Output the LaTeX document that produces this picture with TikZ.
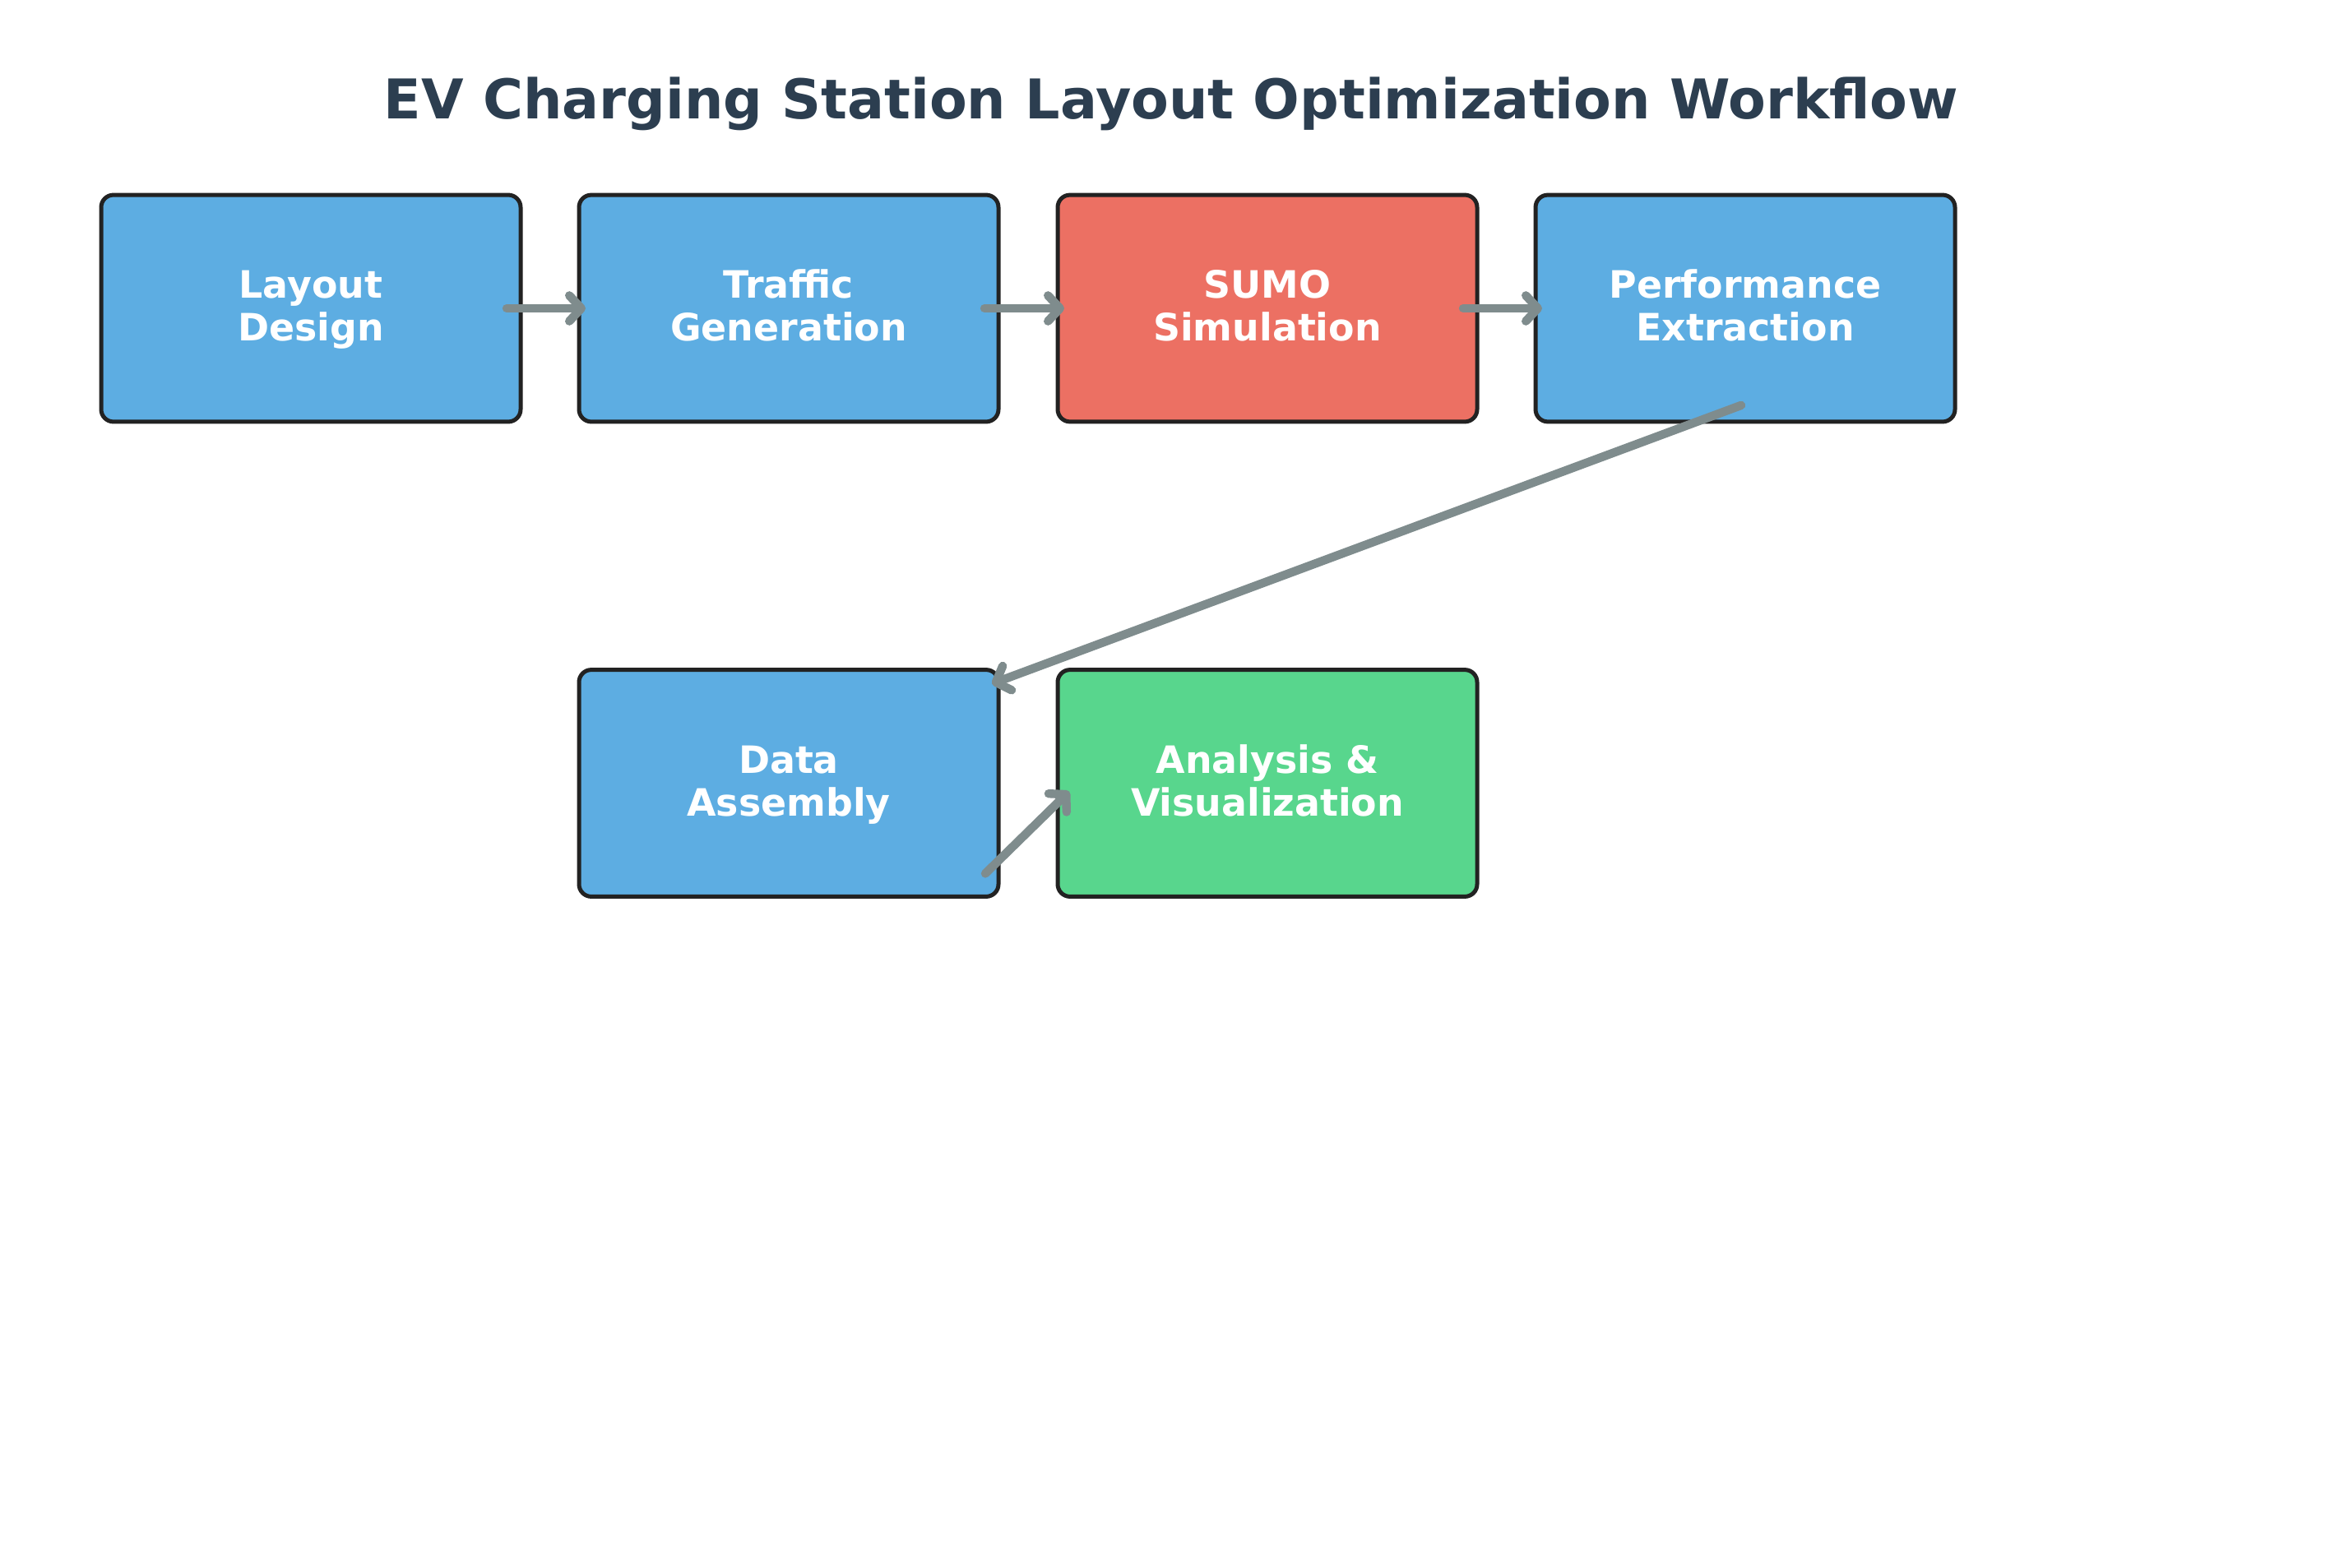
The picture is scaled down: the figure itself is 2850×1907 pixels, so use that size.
\documentclass[tikz,border=0pt]{standalone}
\usepackage{fontspec}
\setmainfont{DejaVu Sans}
\usetikzlibrary{arrows.meta,calc}
\definecolor{boxblue}{HTML}{5DADE2}
\definecolor{boxred}{HTML}{EC7063}
\definecolor{boxgreen}{HTML}{58D68D}
\definecolor{titlecol}{HTML}{2C3E50}
\definecolor{arrowgray}{HTML}{7F8C8D}
\definecolor{edgecol}{HTML}{222222}
\begin{document}
\begin{tikzpicture}[x=0.24pt,y=-0.24pt,
  stage/.style={draw=edgecol, line width=1.2pt, rounded corners=3.6pt,
    minimum width=122.4pt, minimum height=66.2pt, inner sep=0pt, outer sep=0pt,
    text=white, font=\fontsize{11}{12.5}\selectfont\bfseries, align=center,
    text height=20.5pt, text depth=1.3pt},
  flow/.style={draw=arrowgray, line width=2.5pt, line cap=round,
    -{Straight Barb[length=3.5pt,width=7.5pt,round]}}]
\useasboundingbox (0,0) rectangle (2850,1907);
\node[font=\fontsize{16}{19}\selectfont\bfseries, text=titlecol, anchor=base, inner sep=0pt] (title) at (1424,145) {EV Charging Station Layout Optimization Workflow};
\node[stage, fill=boxblue] (layout) at (378,375) {Layout\\Design};
\node[stage, fill=boxblue] (traffic) at (959,375) {Traffic\\Generation};
\node[stage, fill=boxred] (sumo) at (1541,375) {SUMO\\Simulation};
\node[stage, fill=boxblue] (perf) at (2122,375) {Performance\\Extraction};
\node[stage, fill=boxblue] (data) at (959,952.5) {Data\\Assembly};
\node[stage, fill=boxgreen] (analysis) at (1541,952.5) {Analysis \&\\Visualization};
\draw[flow] ($(layout.east)+(-17,0)$) -- ($(traffic.west)+(8,0)$);
\draw[flow] ($(traffic.east)+(-17,0)$) -- ($(sumo.west)+(8,0)$);
\draw[flow] ($(sumo.east)+(-17,0)$) -- ($(perf.west)+(8,0)$);
\draw[flow] ($(perf.south)+(-5,-20)$) -- ($(data.north east)+(-8,17)$);
\draw[flow] ($(data.south east)+(-16,-28)$) -- ($(analysis.west)+(14,10)$);
\end{tikzpicture}
\end{document}
